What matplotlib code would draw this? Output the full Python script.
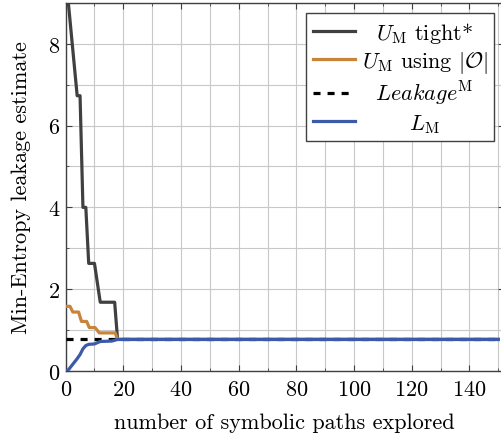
import matplotlib
matplotlib.use("Agg")
import matplotlib.pyplot as plt
from matplotlib.ticker import MultipleLocator

plt.rcParams['font.family'] = ['cmr10', 'DejaVu Serif']
plt.rcParams['mathtext.fontset'] = 'cm'
plt.rcParams['axes.unicode_minus'] = False
plt.rcParams['axes.formatter.use_mathtext'] = True

# data
tight_x = [0, 4, 5, 6, 7, 8, 10, 12, 17, 18, 150]
tight_y = [9.7, 6.73, 6.73, 4.0, 4.0, 2.63, 2.63, 1.68, 1.68, 0.77, 0.77]

using_o_x = [0, 1.5, 2.5, 4.5, 5.5, 7.3, 8.2, 10.2, 11.7, 17.2, 18, 150]
using_o_y = [1.58, 1.58, 1.44, 1.44, 1.21, 1.21, 1.06, 1.06, 0.93, 0.93, 0.77, 0.77]

leakage_x = [0, 150]
leakage_y = [0.77, 0.77]

lower_x = [0, 1, 2, 3, 4, 5, 6, 7, 8, 10, 12, 16, 17, 18, 150]
lower_y = [0, 0.03, 0.12, 0.21, 0.3, 0.4, 0.54, 0.62, 0.65, 0.66, 0.72, 0.73, 0.75, 0.77, 0.77]

labels = [r'$U_\mathrm{M}$ tight*', r'$U_\mathrm{M}$ using $|\mathcal{O}|$',
          r'$Leakage^\mathrm{M}$', r'$L_\mathrm{M}$']

fs = 16

fig = plt.figure(figsize=(5.01, 4.35), dpi=100)
ax = fig.add_axes([0.131, 0.145, 0.875, 0.846])

lw = 2.3
ax.plot(tight_x, tight_y, color='#404040', lw=lw, label=labels[0], zorder=3)
ax.plot(using_o_x, using_o_y, color='#c8843a', lw=lw, label=labels[1], zorder=3)
ax.plot(leakage_x, leakage_y, color='black', lw=lw, ls=(0, (2.2, 2.2)), label=labels[2], zorder=4)
ax.plot(lower_x, lower_y, color='#3b5aa8', lw=lw, label=labels[3], zorder=5)

ax.set_xlim(0, 152)
ax.set_ylim(0, 9)
ax.xaxis.set_major_locator(MultipleLocator(20))
ax.xaxis.set_minor_locator(MultipleLocator(10))
ax.yaxis.set_major_locator(MultipleLocator(2))
ax.yaxis.set_minor_locator(MultipleLocator(1))
ax.grid(True, which='both', color='#c8c8c8', lw=0.8)
ax.set_axisbelow(True)
ax.tick_params(which='both', direction='in', top=True, right=True, labelsize=fs,
               color='#404040')
ax.tick_params(axis='x', pad=6)
ax.tick_params(axis='y', pad=4)
ax.tick_params(which='major', length=4)
ax.tick_params(which='minor', length=2.5)
for s in ax.spines.values():
    s.set_color('#404040')
    s.set_linewidth(1.0)

ax.set_xlabel('number of symbolic paths explored', fontsize=fs, labelpad=10)
ax.set_ylabel('Min-Entropy leakage estimate', fontsize=fs, labelpad=12)

leg = ax.legend(loc='upper right', fontsize=fs, frameon=True, fancybox=False,
                edgecolor='#404040', framealpha=1, handlelength=1.9,
                handletextpad=0.3, borderpad=0.3, labelspacing=0.2,
                borderaxespad=0.45)
leg.get_frame().set_linewidth(1.0)

# centre the legend texts within their column
fig.canvas.draw()
r = fig.canvas.get_renderer()
widths = [t.get_window_extent(r).width for t in leg.get_texts()]
wmax = max(widths)
for t, w in zip(leg.get_texts(), widths):
    t.set_x((wmax - w) / 2)

fig.savefig('out.png', dpi=100)
